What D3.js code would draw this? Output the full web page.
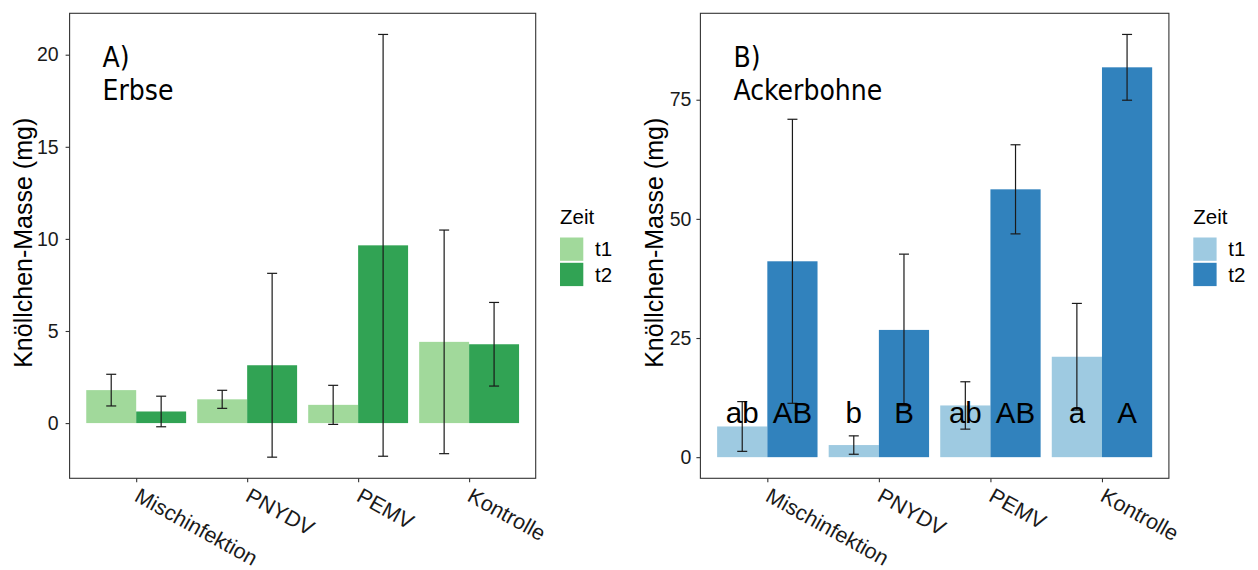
<!DOCTYPE html>
<html>
<head>
<meta charset="utf-8">
<script src="https://cdn.jsdelivr.net/npm/d3@7"></script>
<style>
  body { margin: 0; background: #fff; }
  svg { display: block; }
</style>
</head>
<body>
<svg id="chart" width="1258" height="570"></svg>
<script>
// Treatments and sampling times
const categories = ["Mischinfektion", "PNYDV", "PEMV", "Kontrolle"];
const times = ["t1", "t2"];

// Erbse: mean nodule mass (mg) and spread
const erbseT1 = [1.79, 1.29, 0.99, 4.41];
const erbseT1Sd = [0.86, 0.49, 1.06, 6.07];
const erbseT2 = [0.63, 3.14, 9.65, 4.28];
const erbseT2Sd = [0.83, 4.99, 11.45, 2.27];

// Ackerbohne: mean nodule mass (mg) and spread
const bohneT1 = [6.44, 2.54, 10.85, 21.07];
const bohneT1Sd = [5.22, 1.93, 4.97, 11.19];
const bohneT2 = [41.1, 26.7, 56.2, 81.8];
const bohneT2Sd = [29.8, 15.9, 9.35, 6.9];

// Significance letters (Ackerbohne)
const bohneLettersT1 = ["ab", "b", "ab", "a"];
const bohneLettersT2 = ["AB", "B", "AB", "A"];

// Y axis ticks
const erbseTicks = [0, 5, 10, 15, 20];
const bohneTicks = [0, 25, 50, 75];

const svg = d3.select("#chart");
const axisFont = "'Liberation Sans', Arial, sans-serif";
const titleFont = "'DejaVu Sans Condensed', 'DejaVu Sans', sans-serif";

function drawPanel(cfg) {
  const g = svg.append("g");
  const { x0, x1, y0, y1 } = cfg;

  const rows = [];
  categories.forEach((c, i) => {
    rows.push({ cat: c, time: "t1", mean: cfg.t1[i], sd: cfg.t1Sd[i], letter: cfg.l1 ? cfg.l1[i] : null });
    rows.push({ cat: c, time: "t2", mean: cfg.t2[i], sd: cfg.t2Sd[i], letter: cfg.l2 ? cfg.l2[i] : null });
  });

  // y domain: data range (bars from 0, error bars) plus 5% expansion
  const lo = d3.min(rows, d => Math.min(0, d.mean - d.sd));
  const hi = d3.max(rows, d => Math.max(0, d.mean + d.sd));
  const pad = (hi - lo) * 0.05;
  const y = d3.scaleLinear().domain([lo - pad, hi + pad]).range([y1, y0]);

  // discrete x with 0.6 unit expansion on each side
  const unit = (x1 - x0) / (categories.length - 1 + 1.2);
  const xc = d3.scalePoint().domain(categories).range([x0 + 0.6 * unit, x1 - 0.6 * unit]);
  const xd = d3.scaleBand().domain(times).range([-0.45 * unit, 0.45 * unit]).padding(0);
  const color = d3.scaleOrdinal().domain(times).range(cfg.colors);

  // bars
  g.selectAll("rect.bar").data(rows).join("rect")
    .attr("class", "bar")
    .attr("x", d => xc(d.cat) + xd(d.time))
    .attr("width", xd.bandwidth())
    .attr("y", d => y(Math.max(0, d.mean)))
    .attr("height", d => Math.abs(y(d.mean) - y(0)))
    .attr("fill", d => color(d.time));

  // error bars
  const cap = 5;
  const eb = g.selectAll("g.eb").data(rows).join("g").attr("class", "eb")
    .attr("stroke", "#1a1a1a").attr("stroke-width", 1.2).attr("fill", "none");
  const cx = d => xc(d.cat) + xd(d.time) + xd.bandwidth() / 2;
  eb.append("line").attr("x1", cx).attr("x2", cx)
    .attr("y1", d => y(d.mean - d.sd)).attr("y2", d => y(d.mean + d.sd));
  eb.append("line").attr("x1", d => cx(d) - cap).attr("x2", d => cx(d) + cap)
    .attr("y1", d => y(d.mean + d.sd)).attr("y2", d => y(d.mean + d.sd));
  eb.append("line").attr("x1", d => cx(d) - cap).attr("x2", d => cx(d) + cap)
    .attr("y1", d => y(d.mean - d.sd)).attr("y2", d => y(d.mean - d.sd));

  // letters above the zero line
  if (cfg.l1) {
    g.selectAll("text.letter").data(rows).join("text")
      .attr("class", "letter")
      .attr("x", cx)
      .attr("y", y(0) - 34)
      .attr("text-anchor", "middle")
      .attr("font-family", axisFont)
      .attr("font-size", 29.5)
      .attr("fill", "#000")
      .text(d => d.letter);
  }

  // panel border
  g.append("rect")
    .attr("x", x0).attr("y", y0)
    .attr("width", x1 - x0).attr("height", y1 - y0)
    .attr("fill", "none").attr("stroke", "#333").attr("stroke-width", 1.1);

  // y axis
  const yAxis = d3.axisLeft(y).tickValues(cfg.ticks).tickSize(4).tickPadding(cfg.yPad);
  const ya = g.append("g").attr("transform", `translate(${x0},0)`).call(yAxis);
  ya.select(".domain").remove();
  ya.selectAll(".tick line").attr("stroke", "#333").attr("stroke-width", 1.1);
  ya.selectAll(".tick text").attr("font-family", axisFont).attr("font-size", 19.5).attr("fill", "#1a1a1a");

  // x axis
  const xAxis = d3.axisBottom(xc).tickSize(4).tickFormat("");
  const xa = g.append("g").attr("transform", `translate(0,${y1})`).call(xAxis);
  xa.select(".domain").remove();
  xa.selectAll(".tick line").attr("stroke", "#333").attr("stroke-width", 1.1);
  const ang = 29;
  g.selectAll("text.xlab").data(categories).join("text")
    .attr("class", "xlab")
    .attr("transform", c => `translate(${xc(c) - 3},${y1 + 22}) rotate(${ang})`)
    .attr("font-family", axisFont)
    .attr("font-size", 21.5)
    .attr("fill", "#1a1a1a")
    .text(c => c);

  // y axis title
  g.append("text")
    .attr("transform", `translate(${cfg.titleX},${(y0 + y1) / 2 - 3}) rotate(-90)`)
    .attr("text-anchor", "middle")
    .attr("font-family", axisFont)
    .attr("font-size", 25)
    .attr("fill", "#000")
    .text("Knöllchen-Masse (mg)");

  // panel heading
  const head = g.append("text").attr("font-family", titleFont).attr("font-size", 28).attr("fill", "#000");
  head.append("tspan").attr("x", x0 + 33).attr("y", 66.5).text(cfg.tag);
  head.append("tspan").attr("x", x0 + 33).attr("y", 100).text(cfg.crop);

  // legend
  const lg = svg.append("g").attr("transform", `translate(${cfg.legendX},0)`);
  lg.append("text").attr("x", 0).attr("y", 224).attr("font-family", axisFont)
    .attr("font-size", 20.5).attr("fill", "#000").text("Zeit");
  times.forEach((t, i) => {
    const ky = 237.5 + i * 25.3;
    lg.append("rect").attr("x", 0).attr("y", ky).attr("width", 23.3).attr("height", 23.3).attr("fill", color(t));
    lg.append("text").attr("x", 35).attr("y", ky + 11.6 + 7.3).attr("font-family", axisFont)
      .attr("font-size", 20.5).attr("fill", "#000").text(t);
  });
}

drawPanel({
  x0: 69.6, x1: 535.7, y0: 13.3, y1: 478.3,
  t1: erbseT1, t1Sd: erbseT1Sd, t2: erbseT2, t2Sd: erbseT2Sd,
  colors: ["#a1d99b", "#31a354"],
  ticks: erbseTicks, yPad: 7, titleX: 31.6,
  tag: "A)", crop: "Erbse", legendX: 560
});

drawPanel({
  x0: 700.4, x1: 1168.9, y0: 13.3, y1: 478.3,
  t1: bohneT1, t1Sd: bohneT1Sd, t2: bohneT2, t2Sd: bohneT2Sd,
  l1: bohneLettersT1, l2: bohneLettersT2,
  colors: ["#9ecae1", "#3182bd"],
  ticks: bohneTicks, yPad: 5, titleX: 663.3,
  tag: "B)", crop: "Ackerbohne", legendX: 1193.3
});
</script>
</body>
</html>
